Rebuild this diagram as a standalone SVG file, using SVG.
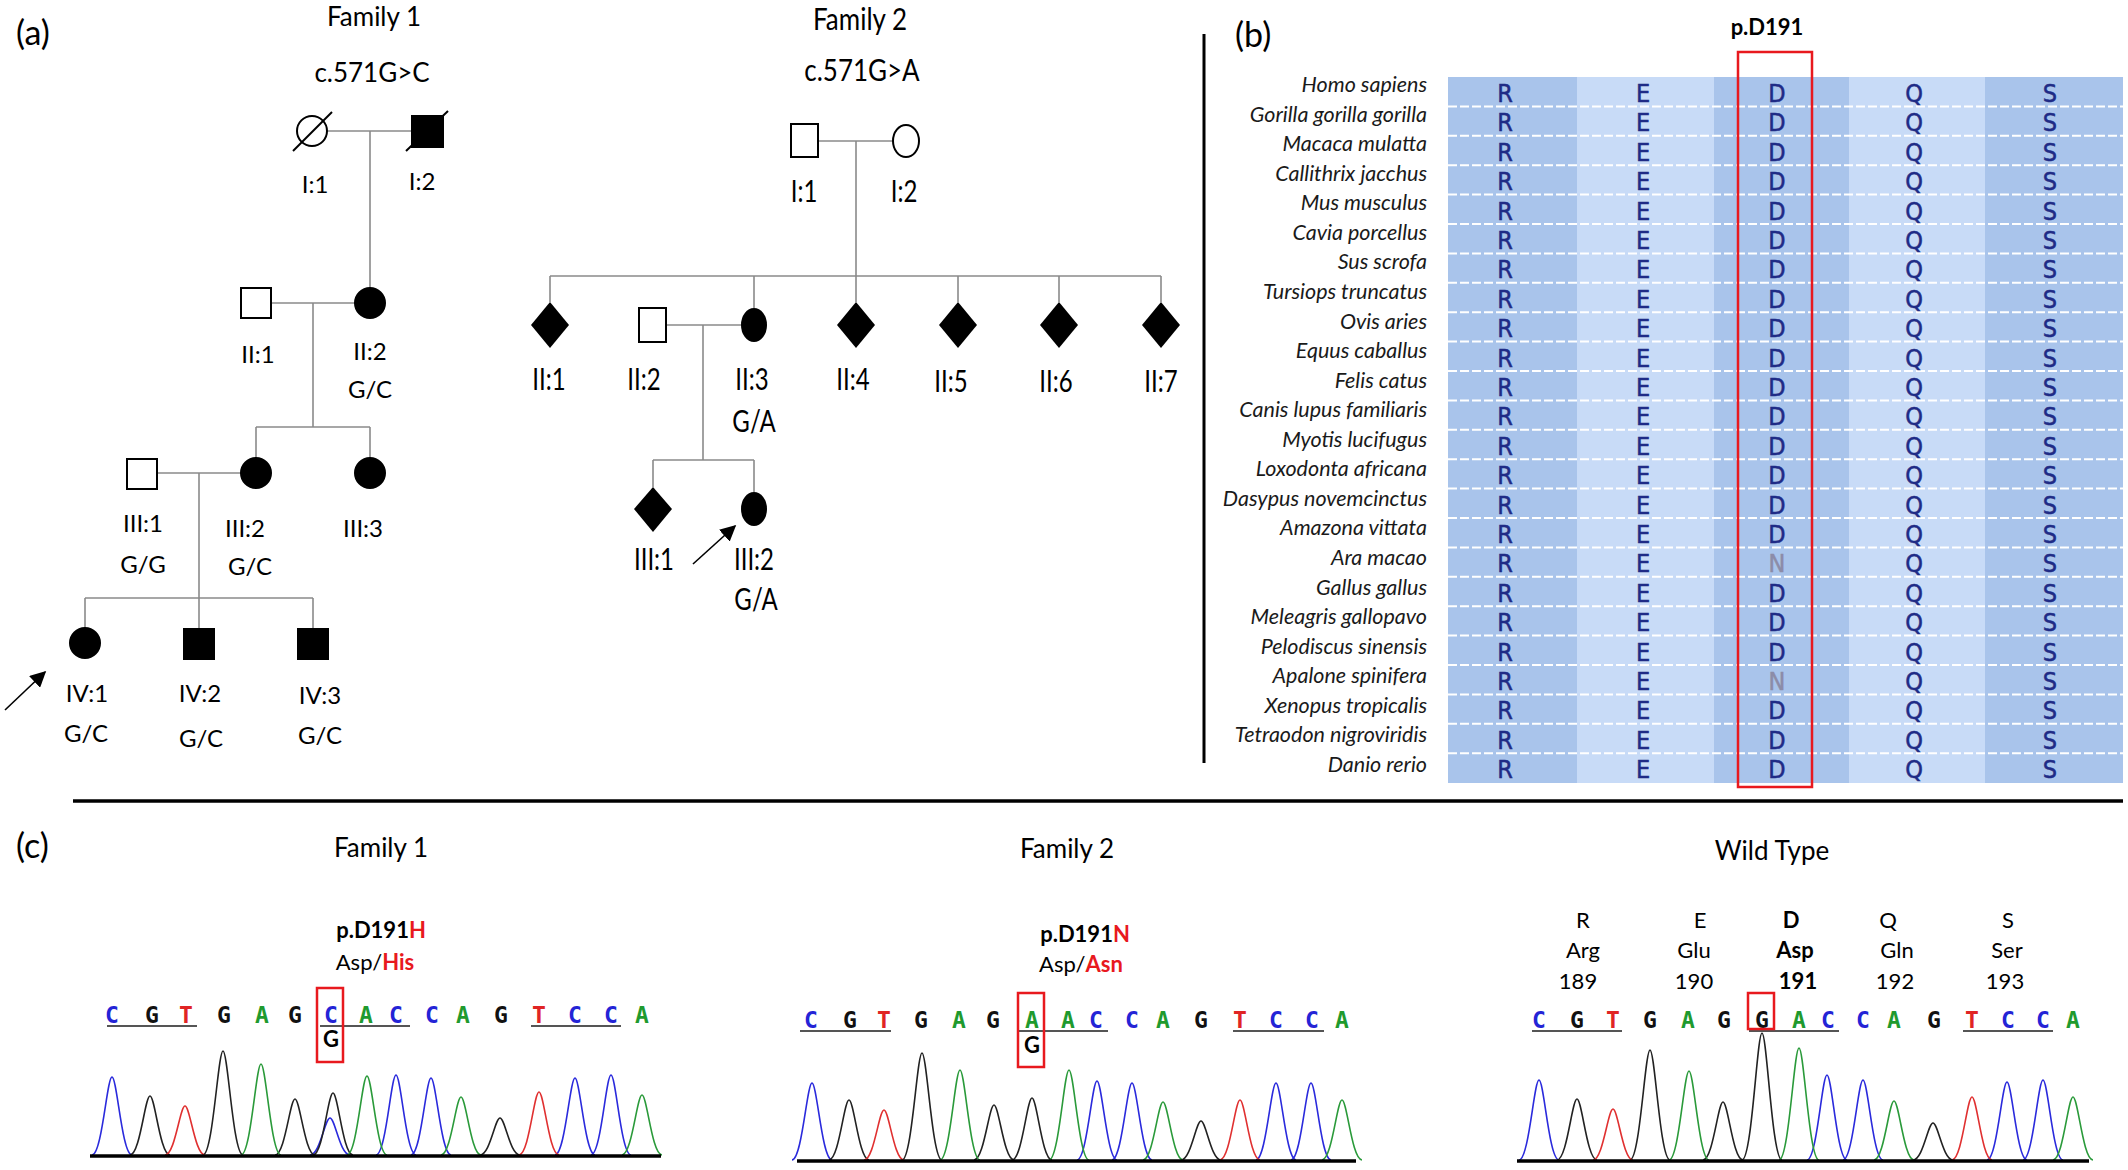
<svg xmlns="http://www.w3.org/2000/svg" width="2128" height="1170" viewBox="0 0 2128 1170">
<style>
text{font-family:Lato,"Liberation Sans",sans-serif;fill:#000}
.pl{font-size:34px}
.ttl{font-size:26px;text-anchor:middle}
.lbl{font-size:24px;text-anchor:middle}
.ln{stroke:#8a8a8a;stroke-width:1.6;fill:none}
.sym{stroke:#000;stroke-width:2}
.wh{fill:#fff}
.bk{fill:#000}
.sp{font-style:italic;font-size:21.5px;text-anchor:end;fill:#1a1a1a}
.aa{font-family:"DejaVu Sans Condensed","DejaVu Sans",sans-serif;font-size:25px;fill:#1f2b86;stroke:#1f2b86;stroke-width:0.5;text-anchor:middle}
.dk{fill:#a9c4eb}
.lt{fill:#c8dbf7}
.sep{stroke:#fff;stroke-width:2;stroke-dasharray:9 3}
.nt{font-family:"DejaVu Sans Mono",monospace;font-weight:bold;font-size:23px;text-anchor:middle}
.cA{fill:#1f9a2e}.cC{fill:#2424d6}.cG{fill:#111}.cT{fill:#e02424}
.pk{fill:none;stroke-width:1.6}
.ul{stroke:#555;stroke-width:2}
.rb{fill:none;stroke:#e8191e;stroke-width:2.5}
.bold{font-weight:bold}
.red{fill:#e8191e}
.mid{text-anchor:middle}
.f22{font-size:22px}
.base{stroke:#000;stroke-width:3.5}
</style>
<defs>
<marker id="ah2" viewBox="0 0 10 10" refX="9" refY="5" markerWidth="16" markerHeight="16" orient="auto" markerUnits="userSpaceOnUse">
<path d="M0,0 L10,5 L0,10 z" fill="#000"/>
</marker>
</defs>
<rect width="2128" height="1170" fill="#fff"/>

<!-- panel labels & dividers -->
<text class="pl" x="16" y="45">(a)</text>
<text class="pl" x="1235" y="47">(b)</text>
<text class="pl" x="16" y="858">(c)</text>
<line x1="1204" y1="34" x2="1204" y2="763" stroke="#000" stroke-width="3"/>
<line x1="73" y1="801" x2="2123" y2="801" stroke="#000" stroke-width="3.5"/>

<!-- Family 1 -->
<text class="ttl" x="374" y="26">Family 1</text>
<text class="ttl" x="372" y="82">c.571G&gt;C</text>
<g id="connectors">
<path class="ln" d="M327,131H412M370,131V288M271,303H355M313,303V427M256,427H370M256,427V458M370,427V458M157,473H241M199,473V598M85,598H313M85,598V628M199,598V629M313,598V629"/>
<path class="ln" d="M818,141H893M856,141V276M550,276H1161M550,276V302M754,276V308M856,276V302M958,276V302M1059,276V302M1161,276V302M666,325H741M703,325V460M653,460H754M653,460V487M754,460V492"/>
<line x1="5" y1="710" x2="45" y2="672" stroke="#000" stroke-width="1.6" marker-end="url(#ah2)"/>
<line x1="693" y1="564" x2="735" y2="526" stroke="#000" stroke-width="1.6" marker-end="url(#ah2)"/>
</g>
<g id="f1-I1"><circle class="sym wh" cx="312" cy="131" r="15"/><line x1="293" y1="151" x2="332" y2="112" stroke="#000" stroke-width="2"/><text class="lbl" x="315" y="193">I:1</text></g>
<g id="f1-I2"><rect class="sym bk" x="412" y="116" width="31" height="31"/><line x1="406" y1="151" x2="448" y2="111" stroke="#000" stroke-width="2"/><text class="lbl" x="422" y="190">I:2</text></g>
<g id="f1-II1"><rect class="sym wh" x="241" y="288" width="30" height="30"/><text class="lbl" x="258" y="363">II:1</text></g>
<g id="f1-II2"><circle class="sym bk" cx="370" cy="303" r="15"/><text class="lbl" x="370" y="360">II:2</text><text class="lbl" x="370" y="398">G/C</text></g>
<g id="f1-III1"><rect class="sym wh" x="127" y="459" width="30" height="30"/><text class="lbl" x="143" y="532">III:1</text><text class="lbl" x="143" y="573">G/G</text></g>
<g id="f1-III2"><circle class="sym bk" cx="256" cy="473" r="15"/><text class="lbl" x="245" y="537">III:2</text><text class="lbl" x="250" y="575">G/C</text></g>
<g id="f1-III3"><circle class="sym bk" cx="370" cy="473" r="15"/><text class="lbl" x="363" y="537">III:3</text></g>
<g id="f1-IV1"><circle class="sym bk" cx="85" cy="643" r="15"/><text class="lbl" x="87" y="702">IV:1</text><text class="lbl" x="86" y="742">G/C</text></g>
<g id="f1-IV2"><rect class="sym bk" x="184" y="629" width="30" height="30"/><text class="lbl" x="200" y="702">IV:2</text><text class="lbl" x="201" y="747">G/C</text></g>
<g id="f1-IV3"><rect class="sym bk" x="298" y="629" width="30" height="30"/><text class="lbl" x="320" y="704">IV:3</text><text class="lbl" x="320" y="744">G/C</text></g>

<!-- Family 2 -->
<text class="ttl" transform="translate(860,30) scale(1,1.15)">Family 2</text>
<text class="ttl" transform="translate(862,81) scale(1,1.15)">c.571G&gt;A</text>
<g id="f2-I1"><rect class="sym wh" x="791" y="124" width="27" height="33"/><text class="lbl" transform="translate(804,202) scale(1,1.3)">I:1</text></g>
<g id="f2-I2"><ellipse class="sym wh" cx="906" cy="141" rx="13" ry="16"/><text class="lbl" transform="translate(904,202) scale(1,1.3)">I:2</text></g>
<g id="f2-II1"><polygon class="bk" points="550,302 569,325 550,348 531,325"/><text class="lbl" transform="translate(549,390) scale(1,1.3)">II:1</text></g>
<g id="f2-II2"><rect class="sym wh" x="639" y="308" width="27" height="34"/><text class="lbl" transform="translate(644,390) scale(1,1.3)">II:2</text></g>
<g id="f2-II3"><ellipse class="bk" cx="754" cy="325" rx="13" ry="17"/><text class="lbl" transform="translate(752,390) scale(1,1.3)">II:3</text><text class="lbl" transform="translate(754,432) scale(1,1.3)">G/A</text></g>
<g id="f2-II4"><polygon class="bk" points="856,302 875,325 856,348 837,325"/><text class="lbl" transform="translate(853,390) scale(1,1.3)">II:4</text></g>
<g id="f2-II5"><polygon class="bk" points="958,302 977,325 958,348 939,325"/><text class="lbl" transform="translate(951,392) scale(1,1.3)">II:5</text></g>
<g id="f2-II6"><polygon class="bk" points="1059,302 1078,325 1059,348 1040,325"/><text class="lbl" transform="translate(1056,392) scale(1,1.3)">II:6</text></g>
<g id="f2-II7"><polygon class="bk" points="1161,302 1180,325 1161,348 1142,325"/><text class="lbl" transform="translate(1161,392) scale(1,1.3)">II:7</text></g>
<g id="f2-III1"><polygon class="bk" points="653,487 672,509 653,532 634,509"/><text class="lbl" transform="translate(654,570) scale(1,1.3)">III:1</text></g>
<g id="f2-III2"><ellipse class="bk" cx="754" cy="509" rx="13" ry="17"/><text class="lbl" transform="translate(754,570) scale(1,1.3)">III:2</text><text class="lbl" transform="translate(756,610) scale(1,1.3)">G/A</text></g>

<!-- Panel b: alignment -->
<text class="bold mid f22" x="1767" y="35">p.D191</text>
<g id="alignment">
<rect class="dk" x="1448" y="77" width="129" height="706"/>
<rect class="lt" x="1577" y="77" width="137" height="706"/>
<rect class="dk" x="1714" y="77" width="135" height="706"/>
<rect class="lt" x="1849" y="77" width="136" height="706"/>
<rect class="dk" x="1985" y="77" width="138" height="706"/>
<path class="sep" d="M1448,106.4H2123M1448,135.8H2123M1448,165.2H2123M1448,194.6H2123M1448,224H2123M1448,253.4H2123M1448,282.8H2123M1448,312.2H2123M1448,341.6H2123M1448,371H2123M1448,400.4H2123M1448,429.8H2123M1448,459.2H2123M1448,488.6H2123M1448,518H2123M1448,547.4H2123M1448,576.8H2123M1448,606.2H2123M1448,635.6H2123M1448,665H2123M1448,694.4H2123M1448,723.8H2123M1448,753.2H2123"/>
</g>
<g id="species">
<text class="sp" x="1427" y="92">Homo sapiens</text>
<text class="sp" x="1427" y="121.6">Gorilla gorilla gorilla</text>
<text class="sp" x="1427" y="151.1">Macaca mulatta</text>
<text class="sp" x="1427" y="180.7">Callithrix jacchus</text>
<text class="sp" x="1427" y="210.2">Mus musculus</text>
<text class="sp" x="1427" y="239.8">Cavia porcellus</text>
<text class="sp" x="1427" y="269.4">Sus scrofa</text>
<text class="sp" x="1427" y="298.9">Tursiops truncatus</text>
<text class="sp" x="1427" y="328.5">Ovis aries</text>
<text class="sp" x="1427" y="358">Equus caballus</text>
<text class="sp" x="1427" y="387.6">Felis catus</text>
<text class="sp" x="1427" y="417.2">Canis lupus familiaris</text>
<text class="sp" x="1427" y="446.7">Myotis lucifugus</text>
<text class="sp" x="1427" y="476.3">Loxodonta africana</text>
<text class="sp" x="1427" y="505.8">Dasypus novemcinctus</text>
<text class="sp" x="1427" y="535.4">Amazona vittata</text>
<text class="sp" x="1427" y="565">Ara macao</text>
<text class="sp" x="1427" y="594.5">Gallus gallus</text>
<text class="sp" x="1427" y="624.1">Meleagris gallopavo</text>
<text class="sp" x="1427" y="653.6">Pelodiscus sinensis</text>
<text class="sp" x="1427" y="683.2">Apalone spinifera</text>
<text class="sp" x="1427" y="712.8">Xenopus tropicalis</text>
<text class="sp" x="1427" y="742.3">Tetraodon nigroviridis</text>
<text class="sp" x="1427" y="771.9">Danio rerio</text>
</g>
<g id="residues">
<text class="aa"><tspan x="1505" y="102">R</tspan><tspan x="1505" y="131.4">R</tspan><tspan x="1505" y="160.8">R</tspan><tspan x="1505" y="190.2">R</tspan><tspan x="1505" y="219.6">R</tspan><tspan x="1505" y="249">R</tspan><tspan x="1505" y="278.4">R</tspan><tspan x="1505" y="307.8">R</tspan><tspan x="1505" y="337.2">R</tspan><tspan x="1505" y="366.6">R</tspan><tspan x="1505" y="396">R</tspan><tspan x="1505" y="425.4">R</tspan><tspan x="1505" y="454.8">R</tspan><tspan x="1505" y="484.2">R</tspan><tspan x="1505" y="513.6">R</tspan><tspan x="1505" y="543">R</tspan><tspan x="1505" y="572.4">R</tspan><tspan x="1505" y="601.8">R</tspan><tspan x="1505" y="631.2">R</tspan><tspan x="1505" y="660.6">R</tspan><tspan x="1505" y="690">R</tspan><tspan x="1505" y="719.4">R</tspan><tspan x="1505" y="748.8">R</tspan><tspan x="1505" y="778.2">R</tspan></text>
<text class="aa"><tspan x="1643" y="102">E</tspan><tspan x="1643" y="131.4">E</tspan><tspan x="1643" y="160.8">E</tspan><tspan x="1643" y="190.2">E</tspan><tspan x="1643" y="219.6">E</tspan><tspan x="1643" y="249">E</tspan><tspan x="1643" y="278.4">E</tspan><tspan x="1643" y="307.8">E</tspan><tspan x="1643" y="337.2">E</tspan><tspan x="1643" y="366.6">E</tspan><tspan x="1643" y="396">E</tspan><tspan x="1643" y="425.4">E</tspan><tspan x="1643" y="454.8">E</tspan><tspan x="1643" y="484.2">E</tspan><tspan x="1643" y="513.6">E</tspan><tspan x="1643" y="543">E</tspan><tspan x="1643" y="572.4">E</tspan><tspan x="1643" y="601.8">E</tspan><tspan x="1643" y="631.2">E</tspan><tspan x="1643" y="660.6">E</tspan><tspan x="1643" y="690">E</tspan><tspan x="1643" y="719.4">E</tspan><tspan x="1643" y="748.8">E</tspan><tspan x="1643" y="778.2">E</tspan></text>
<text class="aa"><tspan x="1777" y="102">D</tspan><tspan x="1777" y="131.4">D</tspan><tspan x="1777" y="160.8">D</tspan><tspan x="1777" y="190.2">D</tspan><tspan x="1777" y="219.6">D</tspan><tspan x="1777" y="249">D</tspan><tspan x="1777" y="278.4">D</tspan><tspan x="1777" y="307.8">D</tspan><tspan x="1777" y="337.2">D</tspan><tspan x="1777" y="366.6">D</tspan><tspan x="1777" y="396">D</tspan><tspan x="1777" y="425.4">D</tspan><tspan x="1777" y="454.8">D</tspan><tspan x="1777" y="484.2">D</tspan><tspan x="1777" y="513.6">D</tspan><tspan x="1777" y="543">D</tspan><tspan x="1777" y="572.4" fill="#8c8ca8" stroke="#8c8ca8">N</tspan><tspan x="1777" y="601.8">D</tspan><tspan x="1777" y="631.2">D</tspan><tspan x="1777" y="660.6">D</tspan><tspan x="1777" y="690" fill="#8c8ca8" stroke="#8c8ca8">N</tspan><tspan x="1777" y="719.4">D</tspan><tspan x="1777" y="748.8">D</tspan><tspan x="1777" y="778.2">D</tspan></text>
<text class="aa"><tspan x="1914" y="102">Q</tspan><tspan x="1914" y="131.4">Q</tspan><tspan x="1914" y="160.8">Q</tspan><tspan x="1914" y="190.2">Q</tspan><tspan x="1914" y="219.6">Q</tspan><tspan x="1914" y="249">Q</tspan><tspan x="1914" y="278.4">Q</tspan><tspan x="1914" y="307.8">Q</tspan><tspan x="1914" y="337.2">Q</tspan><tspan x="1914" y="366.6">Q</tspan><tspan x="1914" y="396">Q</tspan><tspan x="1914" y="425.4">Q</tspan><tspan x="1914" y="454.8">Q</tspan><tspan x="1914" y="484.2">Q</tspan><tspan x="1914" y="513.6">Q</tspan><tspan x="1914" y="543">Q</tspan><tspan x="1914" y="572.4">Q</tspan><tspan x="1914" y="601.8">Q</tspan><tspan x="1914" y="631.2">Q</tspan><tspan x="1914" y="660.6">Q</tspan><tspan x="1914" y="690">Q</tspan><tspan x="1914" y="719.4">Q</tspan><tspan x="1914" y="748.8">Q</tspan><tspan x="1914" y="778.2">Q</tspan></text>
<text class="aa"><tspan x="2050" y="102">S</tspan><tspan x="2050" y="131.4">S</tspan><tspan x="2050" y="160.8">S</tspan><tspan x="2050" y="190.2">S</tspan><tspan x="2050" y="219.6">S</tspan><tspan x="2050" y="249">S</tspan><tspan x="2050" y="278.4">S</tspan><tspan x="2050" y="307.8">S</tspan><tspan x="2050" y="337.2">S</tspan><tspan x="2050" y="366.6">S</tspan><tspan x="2050" y="396">S</tspan><tspan x="2050" y="425.4">S</tspan><tspan x="2050" y="454.8">S</tspan><tspan x="2050" y="484.2">S</tspan><tspan x="2050" y="513.6">S</tspan><tspan x="2050" y="543">S</tspan><tspan x="2050" y="572.4">S</tspan><tspan x="2050" y="601.8">S</tspan><tspan x="2050" y="631.2">S</tspan><tspan x="2050" y="660.6">S</tspan><tspan x="2050" y="690">S</tspan><tspan x="2050" y="719.4">S</tspan><tspan x="2050" y="748.8">S</tspan><tspan x="2050" y="778.2">S</tspan></text>
</g>
<rect class="rb" x="1738" y="52" width="74" height="735"/>

<!-- Panel c: Family 1 -->
<g id="c-family1">
<text class="ttl" x="381" y="857">Family 1</text>
<text class="bold mid f22" x="381" y="938">p.D191<tspan class="red">H</tspan></text>
<text class="mid f22" x="375" y="970">Asp/<tspan class="red bold">His</tspan></text>
<text class="nt"><tspan class="cC" x="112" y="1023">C</tspan><tspan class="cG" x="152" y="1023">G</tspan><tspan class="cT" x="186" y="1023">T</tspan><tspan class="cG" x="224" y="1023">G</tspan><tspan class="cA" x="262" y="1023">A</tspan><tspan class="cG" x="295" y="1023">G</tspan><tspan class="cC" x="331" y="1023">C</tspan><tspan class="cA" x="366" y="1023">A</tspan><tspan class="cC" x="396" y="1023">C</tspan><tspan class="cC" x="432" y="1023">C</tspan><tspan class="cA" x="463" y="1023">A</tspan><tspan class="cG" x="501" y="1023">G</tspan><tspan class="cT" x="539" y="1023">T</tspan><tspan class="cC" x="575" y="1023">C</tspan><tspan class="cC" x="611" y="1023">C</tspan><tspan class="cA" x="642" y="1023">A</tspan></text>
<path class="ul" d="M107,1026H197M320,1026H410M531,1026H621"/>
<text class="bold mid f22" x="331" y="1047">G</text>
<rect class="rb" x="317" y="988" width="26" height="74"/>
<path class="pk" stroke="#2a2adc" d="M92,1155C102,1155 107,1077 112,1077S122,1155 132,1155M310,1155C320,1155 325,1118 330,1118S340,1155 350,1155M376,1155C386,1155 391,1075 396,1075S406,1155 416,1155M411,1155C421,1155 426,1078 431,1078S441,1155 451,1155M555,1155C565,1155 570,1078 575,1078S585,1155 595,1155M591,1155C601,1155 606,1075 611,1075S621,1155 631,1155"/>
<path class="pk" stroke="#222" d="M130,1155C140,1155 145,1096 150,1096S160,1155 170,1155M203,1155C213,1155 218,1051 223,1051S233,1155 243,1155M275,1155C285,1155 290,1099 295,1099S305,1155 315,1155M313,1155C323,1155 328,1093 333,1093S343,1155 353,1155M480,1155C490,1155 495,1118 500,1118S510,1155 520,1155"/>
<path class="pk" stroke="#e03030" d="M165,1155C175,1155 180,1106 185,1106S195,1155 205,1155M519,1155C529,1155 534,1092 539,1092S549,1155 559,1155"/>
<path class="pk" stroke="#2a9a3a" d="M241,1155C251,1155 256,1064 261,1064S271,1155 281,1155M347,1155C357,1155 362,1076 367,1076S377,1155 387,1155M441,1155C451,1155 456,1097 461,1097S471,1155 481,1155M622,1155C632,1155 637,1095 642,1095S652,1155 662,1155"/>
<line class="base" x1="90" y1="1156" x2="661" y2="1156"/>
</g>

<!-- Panel c: Family 2 -->
<g id="c-family2">
<text class="ttl" x="1067" y="858">Family 2</text>
<text class="bold mid f22" x="1085" y="942">p.D191<tspan class="red">N</tspan></text>
<text class="mid f22" x="1081" y="972">Asp/<tspan class="red bold">Asn</tspan></text>
<text class="nt"><tspan class="cC" x="811" y="1028">C</tspan><tspan class="cG" x="850" y="1028">G</tspan><tspan class="cT" x="884" y="1028">T</tspan><tspan class="cG" x="921" y="1028">G</tspan><tspan class="cA" x="959" y="1028">A</tspan><tspan class="cG" x="993" y="1028">G</tspan><tspan class="cA" x="1032" y="1028">A</tspan><tspan class="cA" x="1068" y="1028">A</tspan><tspan class="cC" x="1096" y="1028">C</tspan><tspan class="cC" x="1132" y="1028">C</tspan><tspan class="cA" x="1163" y="1028">A</tspan><tspan class="cG" x="1201" y="1028">G</tspan><tspan class="cT" x="1240" y="1028">T</tspan><tspan class="cC" x="1276" y="1028">C</tspan><tspan class="cC" x="1312" y="1028">C</tspan><tspan class="cA" x="1342" y="1028">A</tspan></text>
<path class="ul" d="M800,1031H891M1018,1031H1108M1233,1031H1324"/>
<text class="bold mid f22" x="1032" y="1053">G</text>
<rect class="rb" x="1018" y="993" width="26" height="74"/>
<path class="pk" stroke="#2a2adc" d="M792,1160C802,1160 807,1083 812,1083S822,1160 832,1160M1077,1160C1087,1160 1092,1081 1097,1081S1107,1160 1117,1160M1112,1160C1122,1160 1127,1083 1132,1083S1142,1160 1152,1160M1256,1160C1266,1160 1271,1083 1276,1083S1286,1160 1296,1160M1291,1160C1301,1160 1306,1083 1311,1083S1321,1160 1331,1160"/>
<path class="pk" stroke="#222" d="M829,1160C839,1160 844,1100 849,1100S859,1160 869,1160M902,1160C912,1160 917,1053 922,1053S932,1160 942,1160M974,1160C984,1160 989,1105 994,1105S1004,1160 1014,1160M1012,1160C1022,1160 1027,1098 1032,1098S1042,1160 1052,1160M1181,1160C1191,1160 1196,1121 1201,1121S1211,1160 1221,1160"/>
<path class="pk" stroke="#e03030" d="M864,1160C874,1160 879,1110 884,1110S894,1160 904,1160M1220,1160C1230,1160 1235,1100 1240,1100S1250,1160 1260,1160"/>
<path class="pk" stroke="#2a9a3a" d="M940,1160C950,1160 955,1070 960,1070S970,1160 980,1160M1049,1160C1059,1160 1064,1070 1069,1070S1079,1160 1089,1160M1143,1160C1153,1160 1158,1102 1163,1102S1173,1160 1183,1160M1322,1160C1332,1160 1337,1100 1342,1100S1352,1160 1362,1160"/>
<line class="base" x1="797" y1="1161" x2="1356" y2="1161"/>
</g>

<!-- Panel c: Wild type -->
<g id="c-wildtype">
<text class="ttl" x="1772" y="860">Wild Type</text>
<text class="mid f22" x="1583" y="928">R</text><text class="mid f22" x="1700" y="928">E</text><text class="mid f22 bold" x="1791" y="928">D</text><text class="mid f22" x="1888" y="928">Q</text><text class="mid f22" x="2008" y="928">S</text>
<text class="mid f22" x="1583" y="958">Arg</text><text class="mid f22" x="1694" y="958">Glu</text><text class="mid f22 bold" x="1795" y="958">Asp</text><text class="mid f22" x="1897" y="958">Gln</text><text class="mid f22" x="2007" y="958">Ser</text>
<text class="mid f22" x="1578" y="989">189</text><text class="mid f22" x="1694" y="989">190</text><text class="mid f22 bold" x="1798" y="989">191</text><text class="mid f22" x="1895" y="989">192</text><text class="mid f22" x="2005" y="989">193</text>
<text class="nt"><tspan class="cC" x="1539" y="1028">C</tspan><tspan class="cG" x="1577" y="1028">G</tspan><tspan class="cT" x="1613" y="1028">T</tspan><tspan class="cG" x="1650" y="1028">G</tspan><tspan class="cA" x="1688" y="1028">A</tspan><tspan class="cG" x="1724" y="1028">G</tspan><tspan class="cG" x="1762" y="1028">G</tspan><tspan class="cA" x="1799" y="1028">A</tspan><tspan class="cC" x="1828" y="1028">C</tspan><tspan class="cC" x="1863" y="1028">C</tspan><tspan class="cA" x="1894" y="1028">A</tspan><tspan class="cG" x="1934" y="1028">G</tspan><tspan class="cT" x="1972" y="1028">T</tspan><tspan class="cC" x="2008" y="1028">C</tspan><tspan class="cC" x="2043" y="1028">C</tspan><tspan class="cA" x="2073" y="1028">A</tspan></text>
<path class="ul" d="M1532,1031H1622M1749,1031H1839M1963,1031H2053"/>
<rect class="rb" x="1748" y="993" width="26" height="36"/>
<path class="pk" stroke="#2a2adc" d="M1519,1160C1529,1160 1534,1080 1539,1080S1549,1160 1559,1160M1807,1160C1817,1160 1822,1075 1827,1075S1837,1160 1847,1160M1843,1160C1853,1160 1858,1080 1863,1080S1873,1160 1883,1160M1987,1160C1997,1160 2002,1082 2007,1082S2017,1160 2027,1160M2023,1160C2033,1160 2038,1080 2043,1080S2053,1160 2063,1160"/>
<path class="pk" stroke="#222" d="M1557,1160C1567,1160 1572,1099 1577,1099S1587,1160 1597,1160M1630,1160C1640,1160 1645,1050 1650,1050S1660,1160 1670,1160M1703,1160C1713,1160 1718,1102 1723,1102S1733,1160 1743,1160M1742,1160C1752,1160 1757,1033 1762,1033S1772,1160 1782,1160M1913,1160C1923,1160 1928,1123 1933,1123S1943,1160 1953,1160"/>
<path class="pk" stroke="#e03030" d="M1593,1160C1603,1160 1608,1109 1613,1109S1623,1160 1633,1160M1952,1160C1962,1160 1967,1097 1972,1097S1982,1160 1992,1160"/>
<path class="pk" stroke="#2a9a3a" d="M1669,1160C1679,1160 1684,1071 1689,1071S1699,1160 1709,1160M1779,1160C1789,1160 1794,1048 1799,1048S1809,1160 1819,1160M1874,1160C1884,1160 1889,1101 1894,1101S1904,1160 1914,1160M2053,1160C2063,1160 2068,1097 2073,1097S2083,1160 2093,1160"/>
<line class="base" x1="1517" y1="1161" x2="2089" y2="1161"/>
</g>
</svg>
